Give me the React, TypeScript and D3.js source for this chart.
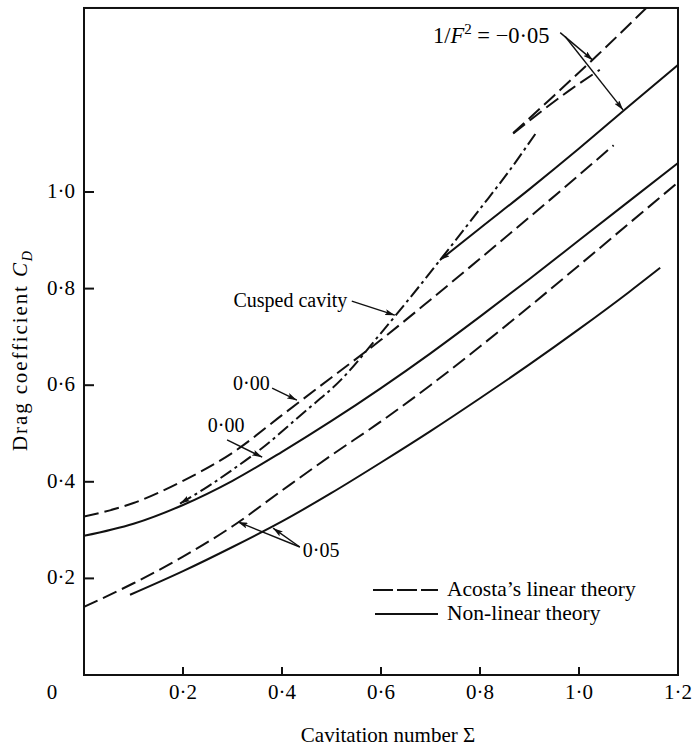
import React from 'react';
import * as d3 from 'd3';

// values: [cavitation number, drag coefficient]
const acosta000 = [[0, 0.328], [0.1, 0.356], [0.2, 0.402], [0.3, 0.46], [0.4, 0.538], [0.5, 0.616], [0.6, 0.694], [0.7, 0.777], [0.8, 0.862], [0.9, 0.948], [1.0, 1.035], [1.07, 1.097]];
const nonlinear000 = [[0, 0.288], [0.1, 0.313], [0.2, 0.352], [0.3, 0.402], [0.4, 0.462], [0.5, 0.526], [0.6, 0.594], [0.7, 0.666], [0.8, 0.742], [0.9, 0.82], [1.0, 0.9], [1.1, 0.98], [1.2, 1.06]];
const acosta005 = [[0, 0.141], [0.1, 0.19], [0.2, 0.245], [0.3, 0.308], [0.4, 0.382], [0.5, 0.455], [0.6, 0.525], [0.7, 0.6], [0.8, 0.68], [0.9, 0.763], [1.0, 0.848], [1.1, 0.934], [1.2, 1.02]];
const nonlinear005 = [[0.093, 0.166], [0.2, 0.215], [0.3, 0.265], [0.4, 0.318], [0.5, 0.377], [0.6, 0.44], [0.7, 0.505], [0.8, 0.573], [0.9, 0.643], [1.0, 0.716], [1.1, 0.792], [1.164, 0.843]];
const acostaM005 = [[0.867, 1.122], [0.95, 1.2], [1.036, 1.282], [1.14, 1.385]];
const acostaM005b = [[0.867, 1.121], [0.914, 1.159], [0.98, 1.21], [1.042, 1.253]];
const nonlinearM005 = [[0.719, 0.859], [0.8, 0.925], [0.9, 1.006], [1.0, 1.09], [1.1, 1.177], [1.2, 1.263]];
const cusped = [[0.194, 0.355], [0.25, 0.39], [0.3, 0.425], [0.36, 0.47], [0.44, 0.54], [0.52, 0.612], [0.6, 0.708], [0.65, 0.77], [0.72, 0.86], [0.8, 0.965], [0.86, 1.045], [0.915, 1.125]];

const xTicks = [0.2, 0.4, 0.6, 0.8, 1.0, 1.2];
const yTicks = [0.2, 0.4, 0.6, 0.8, 1.0];
const fmt = (v: number) => v.toFixed(1).replace('.', '\u00b7');

const W = 695, H = 748;
const FONT = '"Liberation Serif", "DejaVu Serif", serif';

export default function App() {
  const x = d3.scaleLinear().domain([0, 1.2]).range([84, 678]);
  const y = d3.scaleLinear().domain([0, 1]).range([675, 192]);
  const yTop = 1.381;

  const line = d3.line<number[]>()
    .x(d => x(d[0]))
    .y(d => y(d[1]))
    .curve(d3.curveMonotoneX);

  const dash = '15,6';
  const dashDot = '13,4,3,4';

  // annotation arrows, in data units
  const arrows = [
    [[0.962, 1.33], [1.028, 1.273]],
    [[0.972, 1.322], [1.089, 1.17]],
    [[0.38, 0.594], [0.43, 0.569]],
    [[0.289, 0.487], [0.36, 0.451]],
    [[0.436, 0.265], [0.311, 0.317]],
    [[0.436, 0.265], [0.382, 0.304]],
    [[0.541, 0.774], [0.628, 0.745]],
  ];

  return (
    <svg width={W} height={H} style={{ position: 'absolute', left: 0, top: 0, background: '#fff' }}
      fontFamily={FONT}>
      <defs>
        <clipPath id="plot">
          <rect x={x(0)} y={y(yTop)} width={x(1.2) - x(0)} height={y(0) - y(yTop)} />
        </clipPath>
        <marker id="head" viewBox="0 0 10 6" refX="10" refY="3" markerWidth="10" markerHeight="6"
          markerUnits="userSpaceOnUse" orient="auto">
          <path d="M0,0 L10,3 L0,6 L2,3 z" fill="#111" />
        </marker>
        <marker id="tail" viewBox="0 0 10 6" refX="0" refY="3" markerWidth="10" markerHeight="6"
          markerUnits="userSpaceOnUse" orient="auto">
          <path d="M10,0 L0,3 L10,6 L8,3 z" fill="#111" />
        </marker>
      </defs>

      {/* frame */}
      <rect x={x(0)} y={y(yTop)} width={x(1.2) - x(0)} height={y(0) - y(yTop)}
        fill="none" stroke="#111" strokeWidth={2} />

      {yTicks.map(t => (
        <g key={'y' + t}>
          <line x1={x(0)} x2={x(0) + 10} y1={y(t)} y2={y(t)} stroke="#111" strokeWidth={2} />
          <text x={x(0) - 9} y={y(t) + 6} textAnchor="end" fontSize={21}>{fmt(t)}</text>
        </g>
      ))}
      {xTicks.map(t => (
        <g key={'x' + t}>
          {t < 1.2 && <line x1={x(t)} x2={x(t)} y1={y(0)} y2={y(0) - 8} stroke="#111" strokeWidth={2} />}
          <text x={x(t)} y={699} textAnchor="middle" fontSize={21}>{fmt(t)}</text>
        </g>
      ))}
      <text x={52} y={699} textAnchor="middle" fontSize={21}>0</text>

      <text transform="translate(27,351) rotate(-90)" textAnchor="middle" fontSize={21}
        textLength={200} lengthAdjust="spacing">
        Drag coefficient <tspan fontStyle="italic">C</tspan>
        <tspan fontStyle="italic" fontSize={14} dy={5}>D</tspan>
      </text>
      <text x={388} y={742} textAnchor="middle" fontSize={21}>Cavitation number Σ</text>

      <g clipPath="url(#plot)" fill="none" stroke="#111" strokeWidth={2}>
        <path d={line(acosta000) || ''} strokeDasharray={dash} />
        <path d={line(nonlinear000) || ''} />
        <path d={line(acosta005) || ''} strokeDasharray={dash} />
        <path d={line(nonlinear005) || ''} />
        <path d={line(acostaM005) || ''} strokeDasharray={dash} />
        <path d={line(acostaM005b) || ''} strokeDasharray={dash} />
        <path d={line(nonlinearM005) || ''} markerStart="url(#tail)" />
        <path d={line(cusped) || ''} strokeDasharray={dashDot} markerStart="url(#tail)" />
      </g>

      {arrows.map((a, i) => (
        <line key={i} x1={x(a[0][0])} y1={y(a[0][1])} x2={x(a[1][0])} y2={y(a[1][1])}
          stroke="#111" strokeWidth={1.4} markerEnd="url(#head)" />
      ))}

      <text x={x(0.705)} y={y(1.3085)} fontSize={22.5}>
        1/<tspan fontStyle="italic">F</tspan><tspan fontSize={15} dy={-9}>2</tspan>
        <tspan dy={9}> = −0·05</tspan>
      </text>
      <text x={x(0.301)} y={y(0.59)} fontSize={20}>0·00</text>
      <text x={x(0.25)} y={y(0.503)} fontSize={20}>0·00</text>
      <text x={x(0.442)} y={y(0.244)} fontSize={20}>0·05</text>
      <text x={x(0.532)} y={y(0.774) + 6} textAnchor="end" fontSize={20}>Cusped cavity</text>

      {/* legend */}
      <line x1={373} x2={438} y1={590} y2={590} stroke="#111" strokeWidth={2} strokeDasharray="20,4" />
      <text x={447} y={596} fontSize={21.5}>Acosta’s linear theory</text>
      <line x1={375} x2={438} y1={614} y2={614} stroke="#111" strokeWidth={2} />
      <text x={447} y={620} fontSize={21.5}>Non-linear theory</text>
    </svg>
  );
}
